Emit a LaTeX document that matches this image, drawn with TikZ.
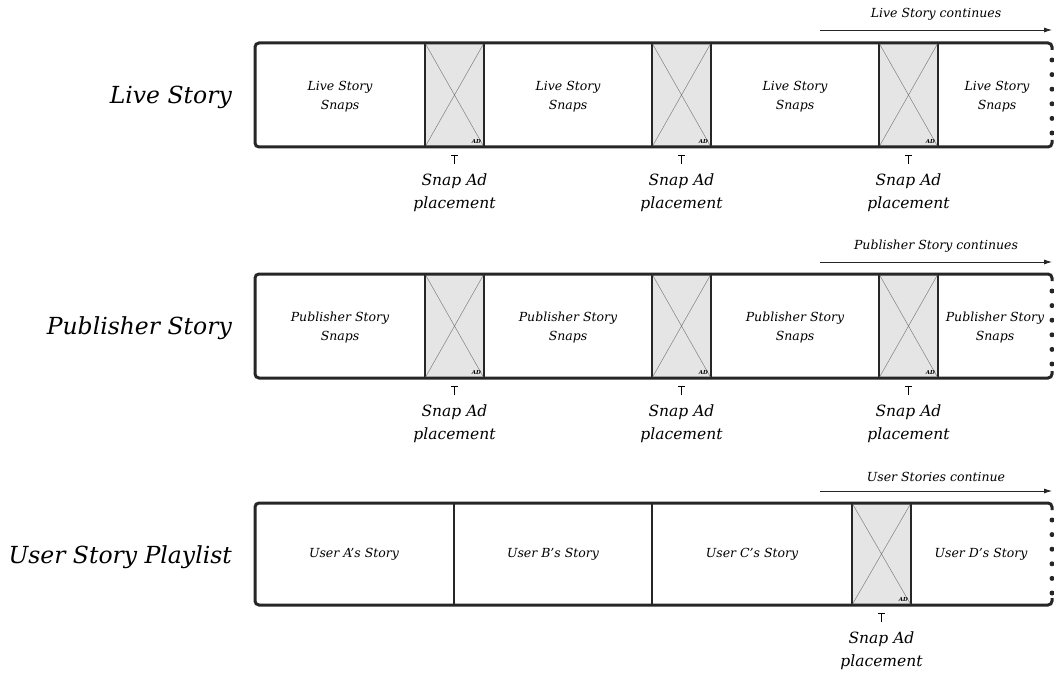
\documentclass[tikz,border=0pt]{standalone}
\usepackage{fontspec}
\setmainfont{DejaVu Serif}
\definecolor{adgray}{RGB}{229,229,229}
\definecolor{framegray}{RGB}{38,38,38}
\usetikzlibrary{arrows.meta,positioning}

\begin{document}
\begin{tikzpicture}[x=1pt,y=-1pt,
    frame/.style={line width=3pt, draw=framegray, rounded corners=4pt},
    dotedge/.style={line width=5pt, line cap=round, dash pattern=on 0pt off 14.6pt, draw=framegray},
    divider/.style={line width=1.5pt, draw=framegray},
    adbox/.style={fill=adgray, draw=framegray, line width=1.5pt, minimum width=59pt, inner sep=0pt, outer sep=0pt, anchor=north west},
    adcross/.style={draw=gray, line width=0.5pt},
    adtag/.style={font=\fontsize{5.5}{6}\selectfont\bfseries\itshape, inner sep=0pt, anchor=south east, xshift=-3pt, yshift=3pt},
    tickmark/.style={draw=black, line width=0.7pt},
    placement/.style={font=\fontsize{15.5}{23}\selectfont\itshape, align=center, inner sep=0pt},
    snaptext/.style={font=\fontsize{12.5}{19}\selectfont\itshape, align=center, inner sep=0pt},
    rowlabel/.style={font=\fontsize{23.5}{28}\selectfont\itshape, inner sep=0pt, anchor=east},
    contlabel/.style={font=\fontsize{12.5}{14}\selectfont\itshape, inner sep=0pt},
    contarrow/.style={-{Latex[length=8pt,width=5pt]}, line width=0.8pt, draw=framegray}]
    \useasboundingbox (0,0) rectangle (1054,676);

    % Live Story
    \foreach \a/\n in {425/1,652/2,879/3}{
        \node[adbox, minimum height=104pt] (live-ad\n) at (\a,43) {};
        \draw[adcross] (live-ad\n.north west) -- (live-ad\n.south east) (live-ad\n.north east) -- (live-ad\n.south west);
        \node[adtag] (live-tag\n) at (live-ad\n.south east) {AD};
        \draw[tickmark] ([yshift=-8pt]live-ad\n.south) ++(-3.5,0) -- ++(7,0) ++(-3.5,0) -- ++(0,9);
        \node[placement, below=27pt of live-ad\n] (live-pl\n) {Snap Ad\\placement};
    }
    \draw[frame] (1052,50) -- (1052,43) -- (255,43) -- (255,147) -- (1052,147) -- (1052,140);
    \draw[dotedge] (1052,60) -- (1052,136);
    \node[rowlabel] (live-lbl) at (232,97) {Live Story};
    \node[snaptext] (live-s1) at (340,97) {Live Story\\Snaps};
    \node[snaptext] (live-s2) at (568,97) {Live Story\\Snaps};
    \node[snaptext] (live-s3) at (795,97) {Live Story\\Snaps};
    \node[snaptext] (live-s4) at (997,97) {Live Story\\Snaps};
    \coordinate (live-c0) at (820,30);
    \coordinate (live-c1) at (1052,30);
    \draw[contarrow] (live-c0) -- (live-c1) node[contlabel, midway, above=9pt] (live-cl) {Live Story continues};

    % Publisher Story
    \foreach \a/\n in {425/1,652/2,879/3}{
        \node[adbox, minimum height=104pt] (pub-ad\n) at (\a,274) {};
        \draw[adcross] (pub-ad\n.north west) -- (pub-ad\n.south east) (pub-ad\n.north east) -- (pub-ad\n.south west);
        \node[adtag] (pub-tag\n) at (pub-ad\n.south east) {AD};
        \draw[tickmark] ([yshift=-8pt]pub-ad\n.south) ++(-3.5,0) -- ++(7,0) ++(-3.5,0) -- ++(0,9);
        \node[placement, below=27pt of pub-ad\n] (pub-pl\n) {Snap Ad\\placement};
    }
    \draw[frame] (1052,281) -- (1052,274) -- (255,274) -- (255,378) -- (1052,378) -- (1052,371);
    \draw[dotedge] (1052,291) -- (1052,367);
    \node[rowlabel] (pub-lbl) at (232,328) {Publisher Story};
    \node[snaptext] (pub-s1) at (340,328) {Publisher Story\\Snaps};
    \node[snaptext] (pub-s2) at (568,328) {Publisher Story\\Snaps};
    \node[snaptext] (pub-s3) at (795,328) {Publisher Story\\Snaps};
    \node[snaptext] (pub-s4) at (995,328) {Publisher Story\\Snaps};
    \coordinate (pub-c0) at (820,262);
    \coordinate (pub-c1) at (1052,262);
    \draw[contarrow] (pub-c0) -- (pub-c1) node[contlabel, midway, above=9pt] (pub-cl) {Publisher Story continues};

    % User Story Playlist
    \node[adbox, minimum height=102pt] (user-ad1) at (852,503) {};
    \draw[adcross] (user-ad1.north west) -- (user-ad1.south east) (user-ad1.north east) -- (user-ad1.south west);
    \node[adtag] (user-tag1) at (user-ad1.south east) {AD};
    \draw[tickmark] ([yshift=-8pt]user-ad1.south) ++(-3.5,0) -- ++(7,0) ++(-3.5,0) -- ++(0,9);
    \node[placement, below=27pt of user-ad1] (user-pl1) {Snap Ad\\placement};
    \draw[divider] (454,503) -- (454,605);
    \draw[divider] (652,503) -- (652,605);
    \draw[frame] (1052,510) -- (1052,503) -- (255,503) -- (255,605) -- (1052,605) -- (1052,598);
    \draw[dotedge] (1052,520) -- (1052,594);
    \node[rowlabel] (user-lbl) at (232,557) {User Story Playlist};
    \node[snaptext] (user-s1) at (354,554) {User A’s Story};
    \node[snaptext] (user-s2) at (553,554) {User B’s Story};
    \node[snaptext] (user-s3) at (752,554) {User C’s Story};
    \node[snaptext] (user-s4) at (981,554) {User D’s Story};
    \coordinate (user-c0) at (820,491);
    \coordinate (user-c1) at (1052,491);
    \draw[contarrow] (user-c0) -- (user-c1) node[contlabel, midway, above=9pt] (user-cl) {User Stories continue};
\end{tikzpicture}
\end{document}
